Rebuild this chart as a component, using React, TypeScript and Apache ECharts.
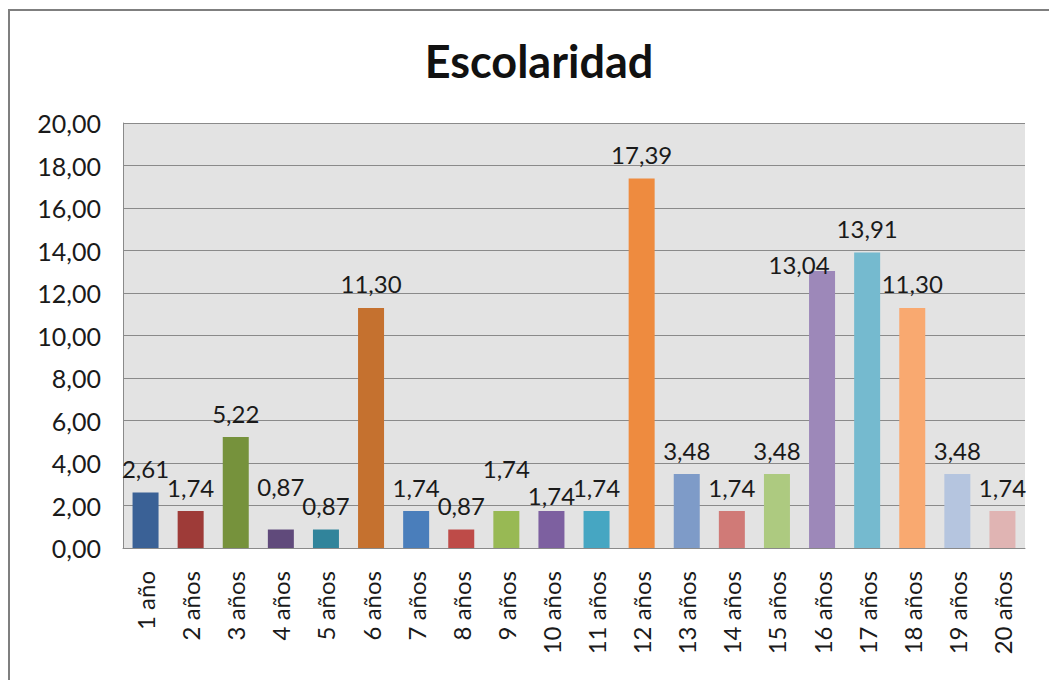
import React, { useEffect, useRef } from "react";
import * as echarts from "echarts";

const categories = [
  "1 año", "2 años", "3 años", "4 años", "5 años", "6 años", "7 años", "8 años", "9 años", "10 años",
  "11 años", "12 años", "13 años", "14 años", "15 años", "16 años", "17 años", "18 años", "19 años", "20 años",
];
const values = [2.61, 1.74, 5.22, 0.87, 0.87, 11.3, 1.74, 0.87, 1.74, 1.74, 1.74, 17.39, 3.48, 1.74, 3.48, 13.04, 13.91, 11.3, 3.48, 1.74];
const barColors = [
  "#3A6196", "#9E3B38", "#76923C", "#604A7B", "#31849B", "#C5712F", "#4A7EBB", "#BE4B48", "#98B954", "#7D60A0",
  "#46A6C2", "#EE8B3F", "#7E9BC8", "#D07A77", "#ADCA80", "#9D88B9", "#75BACF", "#F9A970", "#B5C5DF", "#E0B4B3",
];
const title = "Escolaridad";

// nudges of a few data labels, as the spreadsheet placed them
const labelNudges: Record<number, [number, number]> = {
  3: [0, -19],
  8: [0, -19],
  9: [0, 8],
  15: [-23, 18],
};

const fmt = (v: number) => v.toFixed(2).replace(".", ",");
const FONT = "Lato, 'Open Sans', sans-serif";

export default function App() {
  const ref = useRef<HTMLDivElement>(null);
  useEffect(() => {
    if (!ref.current) return;
    const chart = echarts.init(ref.current, undefined, { renderer: "svg" });
    chart.setOption({
      animation: false,
      backgroundColor: "#FFFFFF",
      title: {
        text: title,
        left: 534,
        textAlign: "center",
        top: 33,
        textStyle: { fontFamily: FONT, fontSize: 45, fontWeight: "bold", color: "#111" },
      },
      graphic: [
        {
          type: "rect",
          shape: { x: 9, y: 10, width: 1100, height: 700 },
          style: { fill: "none", stroke: "#7F7F7F", lineWidth: 2 },
          silent: true,
        },
      ],
      grid: {
        left: 123,
        top: 123,
        width: 902,
        height: 425,
        show: true,
        backgroundColor: "#E3E3E3",
        borderWidth: 0,
      },
      xAxis: {
        type: "category",
        data: categories,
        axisLine: { show: true, lineStyle: { color: "#8A8A8A", width: 1 } },
        axisTick: { show: false },
        axisLabel: {
          rotate: 90,
          margin: 23,
          fontFamily: FONT,
          fontSize: 24,
          color: "#1A1A1A",
          interval: 0,
        },
      },
      yAxis: {
        type: "value",
        min: 0,
        max: 20,
        interval: 2,
        axisLine: { show: true, lineStyle: { color: "#8A8A8A", width: 1 } },
        axisTick: { show: false },
        splitLine: { show: true, lineStyle: { color: "#8A8A8A", width: 1 } },
        axisLabel: {
          margin: 22,
          fontFamily: FONT,
          fontSize: 25,
          color: "#1A1A1A",
          formatter: (v: number) => fmt(v),
        },
      },
      series: [
        {
          type: "bar",
          barWidth: 26,
          data: values.map((v, i) => ({ value: v, itemStyle: { color: barColors[i] } })),
          label: {
            show: true,
            position: "top",
            distance: 12,
            fontFamily: FONT,
            fontSize: 24,
            color: "#1A1A1A",
            formatter: (p: any) => fmt(p.value),
          },
          labelLayout: (params: any) => {
            const n = labelNudges[params.dataIndex];
            if (!n) return {};
            return { dx: n[0], dy: n[1] };
          },
        },
      ],
    });
    return () => chart.dispose();
  }, []);
  return (
    <div
      ref={ref}
      style={{ position: "fixed", left: 0, top: 0, width: 1049, height: 680 }}
    />
  );
}
